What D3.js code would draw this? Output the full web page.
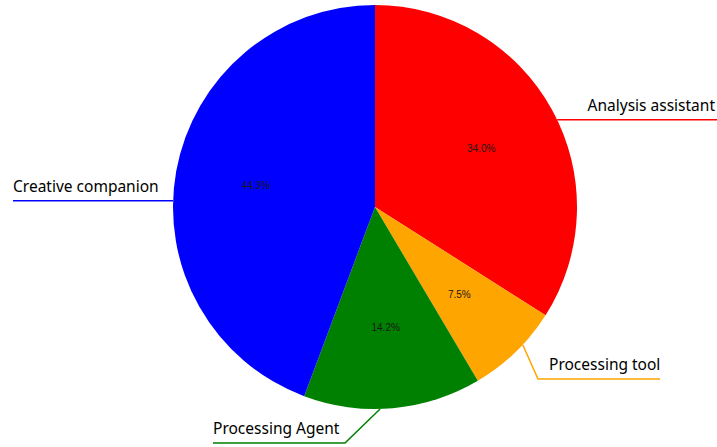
<!DOCTYPE html>
<html>
<head>
<meta charset="utf-8">
<script src="https://cdn.jsdelivr.net/npm/d3@7"></script>
<style>
html,body{margin:0;padding:0;background:#fff;}
svg{display:block;}
</style>
</head>
<body>
<svg id="chart" width="717" height="447"></svg>
<script>
const categories = ["Analysis assistant", "Processing tool", "Processing Agent", "Creative companion"];
const values = [34.0, 7.5, 14.2, 44.3];
const colors = ["#ff0000", "#ffa500", "#008000", "#0000ff"];

const W = 717, H = 447;
const cx = 375, cy = 207, R = 202;
const svg = d3.select("#chart");
const g = svg.append("g").attr("transform", `translate(${cx},${cy})`);

const data = categories.map((c, i) => ({name: c, value: values[i], color: colors[i]}));
const pie = d3.pie().value(d => d.value).sort(null);
const arcs = pie(data);
const arc = d3.arc().innerRadius(0).outerRadius(R);
const labelArc = d3.arc().innerRadius(R * 0.6).outerRadius(R * 0.6);

g.selectAll("path.slice").data(arcs).enter().append("path")
  .attr("class", "slice")
  .attr("d", arc)
  .attr("fill", d => d.data.color);

g.selectAll("text.pct").data(arcs).enter().append("text")
  .attr("class", "pct")
  .attr("transform", d => `translate(${labelArc.centroid(d)})`)
  .attr("text-anchor", "middle")
  .attr("dy", "0.35em")
  .style("font-family", "Liberation Sans, Arial, sans-serif")
  .style("font-size", "10px")
  .style("fill", "#1a1a1a")
  .text(d => d.data.value.toFixed(1) + "%");

// leader line layout (angle offsets from slice mid-angle, elbow & end geometry)
const layout = {
  "Analysis assistant": {da: 3.2, elbow: null, endX: W - cx, side: "right"},
  "Processing tool": {da: -2.9, elbow: [163, 172], endX: 285, side: "right"},
  "Processing Agent": {da: 3.6, elbow: [-30, 236], endX: -162, side: "left"},
  "Creative companion": {da: -8.5, elbow: null, endX: -362, side: "left"}
};

arcs.forEach(d => {
  const L = layout[d.data.name];
  const mid = (d.startAngle + d.endAngle) / 2 + L.da * Math.PI / 180;
  const sx = R * Math.sin(mid), sy = -R * Math.cos(mid);
  const pts = [[sx, sy]];
  let ly;
  if (L.elbow) { pts.push(L.elbow); ly = L.elbow[1]; } else { ly = sy; }
  pts.push([L.endX, ly]);
  g.append("path")
    .attr("d", d3.line()(pts))
    .attr("fill", "none")
    .attr("stroke", d.data.color)
    .attr("stroke-width", 1.5);
  const t = g.append("text")
    .attr("y", ly - 9)
    .style("font-family", "'Noto Sans', 'Open Sans', sans-serif")
    .style("font-size", "15.5px")
    .style("fill", "#000")
    .text(d.data.name);
  if (d.data.name === "Analysis assistant") t.attr("x", W - cx - 2).attr("text-anchor", "end");
  else if (d.data.name === "Processing tool") t.attr("x", L.elbow[0] + 11).attr("text-anchor", "start");
  else t.attr("x", L.endX).attr("text-anchor", "start");
});
</script>
</body>
</html>
